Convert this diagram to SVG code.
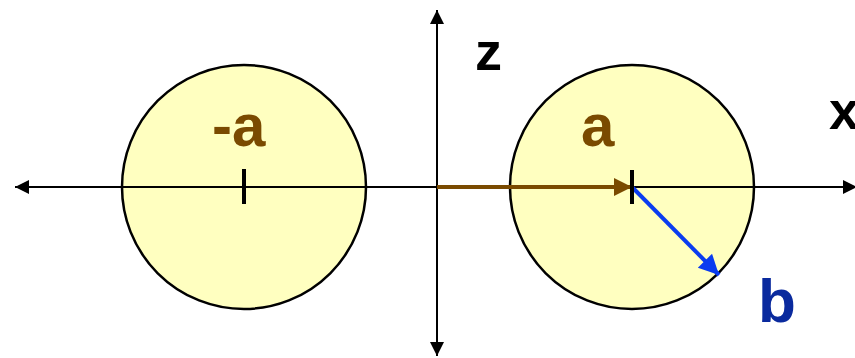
<svg xmlns="http://www.w3.org/2000/svg" width="855" height="358" viewBox="0 0 855 358">
<defs>
<style>
.circle{fill:#FFFFC0;stroke:#000;stroke-width:2.5}
.axis{stroke:#000;stroke-width:2;fill:none}
.tick{stroke:#000;stroke-width:4}
.lbl{font-family:"Liberation Sans",Arial,sans-serif;font-weight:bold}
</style>
<marker id="ah" viewBox="0 0 10 10" refX="10" refY="5" markerUnits="userSpaceOnUse" markerWidth="16" markerHeight="14" orient="auto"><path d="M0,0L10,5L0,10z" fill="#000"/></marker>
<marker id="ahb" viewBox="0 0 10 10" refX="10" refY="5" markerUnits="userSpaceOnUse" markerWidth="30" markerHeight="18" orient="auto"><path d="M0,0L10,5L0,10z" fill="#7A4A00"/></marker>
<marker id="ahl" viewBox="0 0 10 10" refX="10" refY="5" markerUnits="userSpaceOnUse" markerWidth="28" markerHeight="20" orient="auto"><path d="M0,0L10,5L0,10z" fill="#0A3CF0"/></marker>
</defs>
<g id="left-sphere">
<circle class="circle" cx="244" cy="187" r="122"/>
</g>
<g id="right-sphere">
<circle class="circle" cx="632" cy="187" r="122"/>
</g>
<g id="connectors">
<line class="axis" x1="437" y1="187" x2="15" y2="187" marker-end="url(#ah)"/>
<line class="axis" x1="437" y1="187" x2="857" y2="187" marker-end="url(#ah)"/>
<line class="axis" x1="437" y1="187" x2="437" y2="10" marker-end="url(#ah)"/>
<line class="axis" x1="437" y1="187" x2="437" y2="356" marker-end="url(#ah)"/>
<line x1="437" y1="187" x2="632" y2="187" stroke="#7A4A00" stroke-width="4" marker-end="url(#ahb)"/>
<line x1="632" y1="187" x2="719" y2="275" stroke="#0A3CF0" stroke-width="4" marker-end="url(#ahl)"/>
</g>
<g id="ticks">
<line class="tick" x1="244" y1="169" x2="244" y2="204"/>
<line class="tick" x1="632" y1="170" x2="632" y2="204"/>
</g>
<g id="labels">
<text class="lbl" x="475" y="70" font-size="54" fill="#000">z</text>
<text class="lbl" x="829" y="129" font-size="54" fill="#000">x</text>
<text class="lbl" x="212" y="146" font-size="60" fill="#7A4A00">-a</text>
<text class="lbl" x="581" y="146" font-size="60" fill="#7A4A00">a</text>
<text class="lbl" x="758" y="322" font-size="62" fill="#0A2A9E">b</text>
</g>
</svg>
